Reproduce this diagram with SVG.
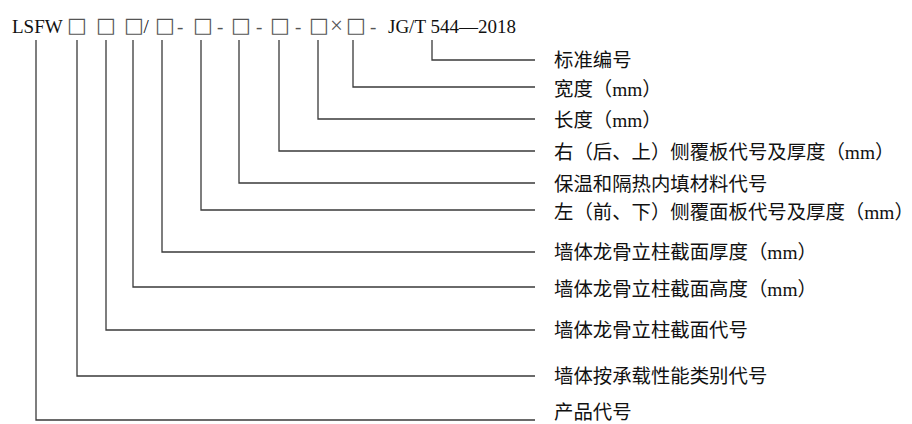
<svg xmlns="http://www.w3.org/2000/svg" width="912" height="424" viewBox="0 0 912 424">
<style>
.code{font-family:"Liberation Serif","Noto Sans CJK SC",serif;font-size:19px;fill:#111}
.box{font-family:"DejaVu Sans",sans-serif;font-size:21px;fill:#555}
.dash{font-family:"Liberation Serif",serif;font-size:19px;fill:#555}
.lbl{font-family:"Liberation Serif","Noto Sans CJK SC",serif;font-size:19.4px;fill:#111}
.ln{fill:none;stroke:#3a3a3a;stroke-width:1.3}
</style>
<rect width="912" height="424" fill="#fff"/>
<g id="code">
<text class="code" x="12" y="33">LSFW</text>
<text class="box" x="67" y="32">□</text>
<text class="box" x="96" y="32">□</text>
<text class="box" x="124" y="32">□</text>
<text class="code" x="143.5" y="33">/</text>
<text class="box" x="155" y="32">□</text>
<text class="dash" x="177" y="33">-</text>
<text class="box" x="193" y="32">□</text>
<text class="dash" x="217" y="33">-</text>
<text class="box" x="231" y="32">□</text>
<text class="dash" x="256" y="33">-</text>
<text class="box" x="270" y="32">□</text>
<text class="dash" x="295" y="33">-</text>
<text class="box" x="309" y="32">□</text>
<text class="dash" x="330" y="33" style="font-size:23px">×</text>
<text class="box" x="346" y="32">□</text>
<text class="dash" x="370" y="33">-</text>
<text class="code" x="388" y="33">JG/T 544—2018</text>
</g>
<g id="connectors">
<polyline class="ln" points="432,40 432,60 535,60"/>
<polyline class="ln" points="353,40 353,87 535,87"/>
<polyline class="ln" points="318,40 318,119 535,119"/>
<polyline class="ln" points="279,40 279,151 535,151"/>
<polyline class="ln" points="239,40 239,183 535,183"/>
<polyline class="ln" points="201,40 201,210 535,210"/>
<polyline class="ln" points="162,40 162,252 535,252"/>
<polyline class="ln" points="133,40 133,287 535,287"/>
<polyline class="ln" points="106,40 106,330 535,330"/>
<polyline class="ln" points="77,40 77,376 535,376"/>
<polyline class="ln" points="36,40 36,420 535,420"/>
</g>
<g id="n1"><text class="lbl" x="554" y="67">标准编号</text></g>
<g id="n2"><text class="lbl" x="554" y="96">宽度（mm）</text></g>
<g id="n3"><text class="lbl" x="554" y="127">长度（mm）</text></g>
<g id="n4"><text class="lbl" x="554" y="159">右（后、上）侧覆板代号及厚度（mm）</text></g>
<g id="n5"><text class="lbl" x="554" y="191">保温和隔热内填材料代号</text></g>
<g id="n6"><text class="lbl" x="554" y="219">左（前、下）侧覆面板代号及厚度（mm）</text></g>
<g id="n7"><text class="lbl" x="554" y="259">墙体龙骨立柱截面厚度（mm）</text></g>
<g id="n8"><text class="lbl" x="554" y="296">墙体龙骨立柱截面高度（mm）</text></g>
<g id="n9"><text class="lbl" x="554" y="337">墙体龙骨立柱截面代号</text></g>
<g id="n10"><text class="lbl" x="554" y="383">墙体按承载性能类别代号</text></g>
<g id="n11"><text class="lbl" x="554" y="419">产品代号</text></g>
</svg>
